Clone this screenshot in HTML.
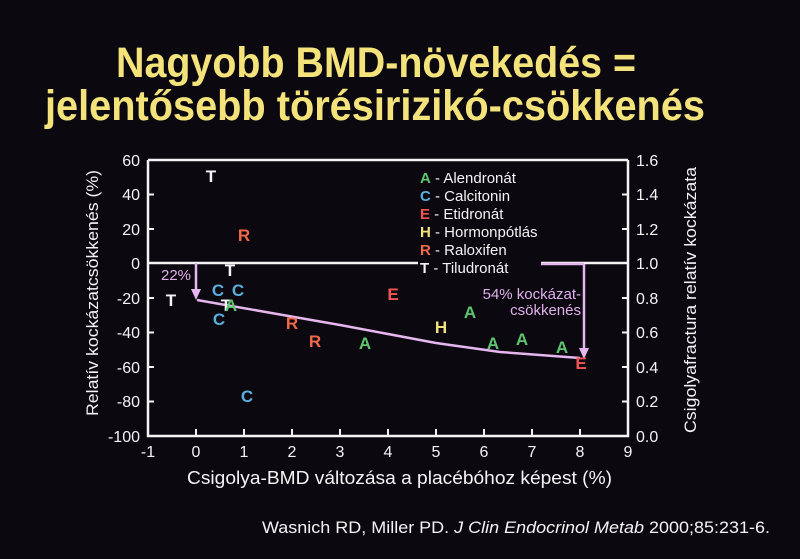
<!DOCTYPE html>
<html><head><meta charset="utf-8"><style>
html,body{margin:0;padding:0;background:#0b0810;}
svg{display:block}
</style></head><body>
<svg width="800" height="559" viewBox="0 0 800 559" xmlns="http://www.w3.org/2000/svg" font-family="Liberation Sans, sans-serif">
<rect width="800" height="559" fill="#0b0810"/>
<g fill="#f3e37a" font-weight="bold" font-size="43">
<text x="116" y="77" textLength="520" lengthAdjust="spacingAndGlyphs">Nagyobb BMD-növekedés =</text>
<text x="45" y="120" textLength="660" lengthAdjust="spacingAndGlyphs">jelentősebb törésirizikó-csökkenés</text>
</g>
<g stroke="#f4f4f4" stroke-width="2.5" fill="none">
<polyline points="148,160 628,160"/>
<polyline points="148,160 148,436 628,436 628,160"/>
<line x1="148" y1="263" x2="418" y2="263"/>
<line x1="541" y1="263" x2="628" y2="263"/>
</g>
<g stroke="#f4f4f4" stroke-width="2">
<line x1="148" y1="194.5" x2="154" y2="194.5"/><line x1="148" y1="229" x2="154" y2="229"/>
<line x1="148" y1="298" x2="154" y2="298"/><line x1="148" y1="332.5" x2="154" y2="332.5"/>
<line x1="148" y1="367" x2="154" y2="367"/><line x1="148" y1="401.5" x2="154" y2="401.5"/>
<line x1="628" y1="194.5" x2="622" y2="194.5"/><line x1="628" y1="229" x2="622" y2="229"/>
<line x1="628" y1="298" x2="622" y2="298"/><line x1="628" y1="332.5" x2="622" y2="332.5"/>
<line x1="628" y1="367" x2="622" y2="367"/><line x1="628" y1="401.5" x2="622" y2="401.5"/>
<line x1="196" y1="436" x2="196" y2="429"/><line x1="244" y1="436" x2="244" y2="429"/>
<line x1="292" y1="436" x2="292" y2="429"/><line x1="340" y1="436" x2="340" y2="429"/>
<line x1="388" y1="436" x2="388" y2="429"/><line x1="436" y1="436" x2="436" y2="429"/>
<line x1="484" y1="436" x2="484" y2="429"/><line x1="532" y1="436" x2="532" y2="429"/>
<line x1="580" y1="436" x2="580" y2="429"/>
</g>
<g fill="#f4f4f4" font-size="16" text-anchor="end">
<text x="140" y="166">60</text><text x="140" y="200">40</text><text x="140" y="235">20</text>
<text x="140" y="269">0</text><text x="140" y="304">-20</text><text x="140" y="338">-40</text>
<text x="140" y="373">-60</text><text x="140" y="407">-80</text><text x="140" y="442">-100</text>
</g>
<g fill="#f4f4f4" font-size="16">
<text x="636" y="166">1.6</text><text x="636" y="200">1.4</text><text x="636" y="235">1.2</text>
<text x="636" y="269">1.0</text><text x="636" y="304">0.8</text><text x="636" y="338">0.6</text>
<text x="636" y="373">0.4</text><text x="636" y="407">0.2</text><text x="636" y="442">0.0</text>
</g>
<g fill="#f4f4f4" font-size="16" text-anchor="middle">
<text x="148" y="457">-1</text><text x="196" y="457">0</text><text x="244" y="457">1</text><text x="292" y="457">2</text>
<text x="340" y="457">3</text><text x="388" y="457">4</text><text x="436" y="457">5</text><text x="484" y="457">6</text>
<text x="532" y="457">7</text><text x="580" y="457">8</text><text x="628" y="457">9</text>
</g>
<text x="187" y="484" fill="#f4f4f4" font-size="18.5" textLength="425" lengthAdjust="spacingAndGlyphs">Csigolya-BMD változása a placébóhoz képest (%)</text>
<text transform="translate(98,416) rotate(-90)" fill="#f4f4f4" font-size="17" textLength="246" lengthAdjust="spacingAndGlyphs">Relatív kockázatcsökkenés (%)</text>
<text transform="translate(696,433) rotate(-90)" fill="#f4f4f4" font-size="17" textLength="266" lengthAdjust="spacingAndGlyphs">Csigolyafractura relatív kockázata</text>
<text x="262" y="533" fill="#f4f4f4" font-size="17" textLength="508" lengthAdjust="spacingAndGlyphs">Wasnich RD, Miller PD. <tspan font-style="italic">J Clin Endocrinol Metab</tspan> 2000;85:231-6.</text>
<g stroke="#e6b6ee" stroke-width="2.5" fill="none">
<polyline points="197,300 260,311 340,325 436,343 500,352 580,358"/>
<line x1="196" y1="263" x2="196" y2="291"/>
<line x1="584" y1="264" x2="584" y2="350"/>
<line x1="541" y1="264" x2="584" y2="264"/>
</g>
<g fill="#e6b6ee">
<polygon points="191,289 201,289 196,300"/>
<polygon points="579,348 589,348 584,359"/>
</g>
<text x="161" y="280" fill="#e0b0ea" font-size="15">22%</text>
<text x="581" y="299" fill="#e0b0ea" font-size="15" text-anchor="end">54% kockázat-</text>
<text x="581" y="315" fill="#e0b0ea" font-size="15" text-anchor="end">csökkenés</text>
<g font-size="15" fill="#f4f4f4">
<text x="420" y="183"><tspan fill="#5cc66c" font-weight="bold">A</tspan> - Alendronát</text>
<text x="420" y="201"><tspan fill="#5aaedc" font-weight="bold">C</tspan> - Calcitonin</text>
<text x="420" y="219"><tspan fill="#f25454" font-weight="bold">E</tspan> - Etidronát</text>
<text x="420" y="237"><tspan fill="#f2e27a" font-weight="bold">H</tspan> - Hormonpótlás</text>
<text x="420" y="255"><tspan fill="#f2684a" font-weight="bold">R</tspan> - Raloxifen</text>
<text x="420" y="273"><tspan font-weight="bold">T</tspan> - Tiludronát</text>
</g>
<g font-size="17" font-weight="bold" text-anchor="middle">
<text x="211" y="182" fill="#f4f4f4">T</text>
<text x="244" y="241" fill="#f2684a">R</text>
<text x="230" y="276" fill="#f4f4f4">T</text>
<text x="218" y="296" fill="#5aaedc">C</text>
<text x="238" y="296" fill="#5aaedc">C</text>
<text x="171" y="306" fill="#f4f4f4">T</text>
<text x="226" y="311" fill="#f4f4f4">T</text>
<text x="231" y="311" fill="#5cc66c">A</text>
<text x="219" y="325" fill="#5aaedc">C</text>
<text x="292" y="329" fill="#f2684a">R</text>
<text x="315" y="347" fill="#f2684a">R</text>
<text x="365" y="349" fill="#5cc66c">A</text>
<text x="393" y="300" fill="#f25454">E</text>
<text x="441" y="333" fill="#f2e27a">H</text>
<text x="470" y="318" fill="#5cc66c">A</text>
<text x="493" y="349" fill="#5cc66c">A</text>
<text x="522" y="345" fill="#5cc66c">A</text>
<text x="562" y="353" fill="#5cc66c">A</text>
<text x="581" y="369" fill="#f25454">E</text>
<text x="247" y="402" fill="#5aaedc">C</text>
</g>
</svg>
</body></html>
